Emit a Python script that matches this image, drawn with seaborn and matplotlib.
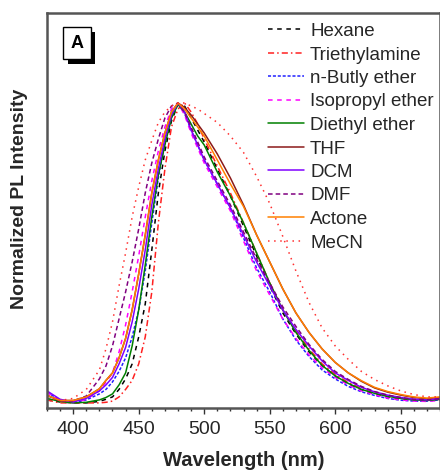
import numpy as np
import pandas as pd
import matplotlib
matplotlib.use("Agg")
import matplotlib.pyplot as plt
import matplotlib.patheffects as pe
from matplotlib.ticker import MultipleLocator
import seaborn as sns

# wavelength grid (nm)
wl = [380, 390, 400, 410, 420, 425, 430, 435, 440, 445, 450, 455, 460, 465, 470, 475,
      480, 485, 490, 495, 500,
      510, 520, 530, 540, 550, 560, 570, 580, 590, 600, 610, 620, 630, 640, 650, 660, 670, 680]

# normalized PL
hexane = [0.01, 0.003, 0.0, 0.0, 0.005, 0.012, 0.02, 0.045, 0.08, 0.13, 0.22, 0.33, 0.51, 0.70, 0.84, 0.94,
          0.995, 0.99, 0.95, 0.91, 0.87,
          0.78, 0.69, 0.59, 0.49, 0.39, 0.30, 0.23, 0.17, 0.125, 0.09, 0.063, 0.044, 0.03, 0.02, 0.013, 0.01, 0.008, 0.012]
triethylamine = [0.01, 0.0, 0.0, 0.0, 0.0, 0.002, 0.006, 0.02, 0.045, 0.075, 0.13, 0.22, 0.37, 0.60, 0.78, 0.92,
                 0.98, 1.0, 0.97, 0.93, 0.88,
                 0.79, 0.70, 0.60, 0.50, 0.40, 0.31, 0.24, 0.18, 0.13, 0.095, 0.068, 0.048, 0.033, 0.022, 0.015, 0.01, 0.008, 0.012]
butyl_ether = [0.035, 0.01, 0.0, 0.01, 0.03, 0.045, 0.07, 0.105, 0.15, 0.22, 0.31, 0.44, 0.60, 0.75, 0.87, 0.95,
               1.0, 0.965, 0.91, 0.86, 0.81,
               0.73, 0.65, 0.55, 0.45, 0.37, 0.28, 0.21, 0.155, 0.11, 0.08, 0.055, 0.037, 0.025, 0.015, 0.009, 0.006, 0.006, 0.01]
isopropyl_ether = [0.035, 0.008, 0.0, 0.012, 0.04, 0.07, 0.10, 0.17, 0.26, 0.37, 0.49, 0.62, 0.74, 0.84, 0.92, 0.98,
                   1.0, 0.96, 0.90, 0.85, 0.80,
                   0.72, 0.64, 0.54, 0.44, 0.36, 0.28, 0.215, 0.16, 0.117, 0.085, 0.06, 0.04, 0.027, 0.016, 0.01, 0.006, 0.005, 0.008]
diethyl_ether = [0.015, 0.005, 0.0, 0.002, 0.01, 0.018, 0.03, 0.06, 0.10, 0.19, 0.31, 0.46, 0.62, 0.76, 0.86, 0.95,
                 0.995, 0.97, 0.93, 0.89, 0.86,
                 0.77, 0.69, 0.60, 0.50, 0.40, 0.31, 0.235, 0.175, 0.125, 0.09, 0.065, 0.045, 0.032, 0.022, 0.015, 0.01, 0.008, 0.012]
thf = [0.025, 0.008, 0.008, 0.02, 0.047, 0.075, 0.10, 0.15, 0.215, 0.31, 0.43, 0.56, 0.70, 0.81, 0.90, 0.97,
       1.0, 0.985, 0.96, 0.93, 0.90,
       0.83, 0.75, 0.66, 0.56, 0.47, 0.38, 0.30, 0.235, 0.18, 0.135, 0.10, 0.072, 0.05, 0.036, 0.026, 0.018, 0.014, 0.018]
dcm = [0.04, 0.012, 0.003, 0.015, 0.04, 0.06, 0.085, 0.13, 0.185, 0.27, 0.38, 0.51, 0.66, 0.78, 0.88, 0.96,
       1.0, 0.97, 0.91, 0.86, 0.81,
       0.73, 0.65, 0.56, 0.47, 0.39, 0.31, 0.245, 0.19, 0.14, 0.10, 0.075, 0.052, 0.037, 0.026, 0.018, 0.012, 0.01, 0.015]
dmf = [0.025, 0.006, 0.006, 0.023, 0.08, 0.123, 0.19, 0.28, 0.37, 0.47, 0.58, 0.70, 0.80, 0.88, 0.95, 0.99,
       1.0, 0.97, 0.92, 0.87, 0.82,
       0.74, 0.66, 0.57, 0.48, 0.40, 0.32, 0.255, 0.195, 0.145, 0.105, 0.078, 0.055, 0.038, 0.026, 0.018, 0.012, 0.01, 0.014]
actone = [0.025, 0.008, 0.008, 0.02, 0.047, 0.075, 0.10, 0.15, 0.215, 0.31, 0.43, 0.56, 0.70, 0.81, 0.90, 0.97,
          1.0, 0.98, 0.95, 0.92, 0.89,
          0.81, 0.73, 0.655, 0.56, 0.47, 0.38, 0.30, 0.235, 0.18, 0.135, 0.10, 0.074, 0.052, 0.038, 0.028, 0.02, 0.016, 0.02]
mecn = [0.02, 0.008, 0.015, 0.045, 0.11, 0.18, 0.27, 0.39, 0.50, 0.62, 0.72, 0.81, 0.875, 0.935, 0.97, 0.99,
        1.0, 1.0, 0.99, 0.98, 0.965,
        0.935, 0.89, 0.835, 0.755, 0.665, 0.555, 0.44, 0.335, 0.25, 0.19, 0.145, 0.105, 0.078, 0.057, 0.04, 0.028, 0.02, 0.02]

names = ["Hexane", "Triethylamine", "n-Butly ether", "Isopropyl ether", "Diethyl ether",
         "THF", "DCM", "DMF", "Actone", "MeCN"]
series = [hexane, triethylamine, butyl_ether, isopropyl_ether, diethyl_ether,
          thf, dcm, dmf, actone, mecn]
colors = ["black", "#ff2020", "#2020ff", "#ff00ff", "#008000",
          "#8b1a1a", "#8000ff", "#800080", "#ff8000", "#ff3030"]
styles = [(0, (3, 3)), (0, (4, 2, 1, 2)), (0, (2, 1.2)), (0, (3, 3)), "-",
          "-", "-", (0, (3, 2)), "-", (0, (1, 3))]

sns.set_style("ticks")
plt.rcParams["font.family"] = ["Liberation Sans", "DejaVu Sans"]

fig = plt.figure(figsize=(4.4, 4.7), dpi=100)
ax = fig.add_axes([47 / 440, 62 / 470, 393 / 440, 395 / 470])

for name, vals, c, ls in zip(names, series, colors, styles):
    df = pd.DataFrame({"wl": wl, "I": vals})
    sns.lineplot(data=df, x="wl", y="I", color=c, linestyle=ls, linewidth=1.1,
                 label=name, ax=ax)

ax.set_xlim(380, 680)
ax.set_ylim(-0.017, 1.3)
ax.xaxis.set_major_locator(MultipleLocator(50))
ax.xaxis.set_minor_locator(MultipleLocator(10))
ax.set_yticks([])
ax.tick_params(axis="x", which="major", direction="out", length=4, width=1,
               color="#333333", labelsize=14, pad=5.5)
ax.tick_params(axis="x", which="minor", direction="out", length=2.5, width=1, color="#333333")
for side in ["left", "top", "bottom", "right"]:
    ax.spines[side].set_color("#555555")
    ax.spines[side].set_linewidth(1.8)

ax.set_xlabel("Wavelength (nm)", fontsize=14.5, fontweight="bold", labelpad=9)
ax.set_ylabel("Normalized PL Intensity", fontsize=14, fontweight="bold")
ax.yaxis.set_label_coords(-0.048, 0.53)

leg = ax.legend(loc="upper left", bbox_to_anchor=(0.562, 0.975), frameon=False,
                fontsize=13.5, handlelength=1.95, handletextpad=0.3,
                labelspacing=0.34, borderpad=0, borderaxespad=0)

# panel label with shadow box
t = ax.text(0.076, 0.924, "A", transform=ax.transAxes, fontsize=13, fontweight="bold",
            ha="center", va="center", color="black",
            bbox=dict(boxstyle="square,pad=0.4", fc="white", ec="black", lw=1))
t.get_bbox_patch().set_path_effects([
    pe.SimplePatchShadow(offset=(3.5, -3.5), shadow_rgbFace="black", alpha=1.0),
    pe.Normal()])

fig.savefig("out.png", dpi=100)
